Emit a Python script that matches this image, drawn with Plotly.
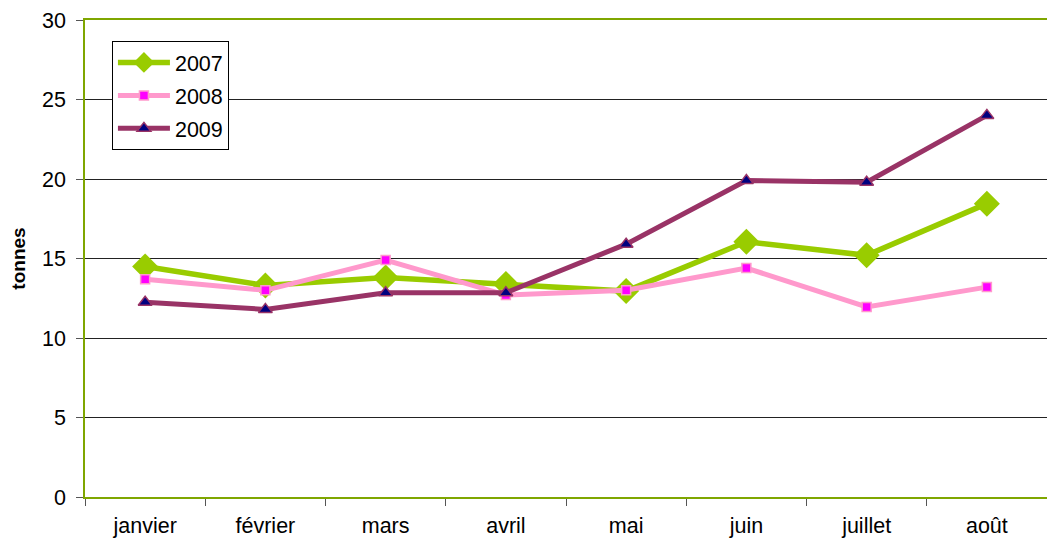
import plotly.graph_objects as go

months = ["janvier", "février", "mars", "avril", "mai", "juin", "juillet", "août"]
s2007 = [14.5, 13.3, 13.8, 13.4, 12.95, 16.05, 15.2, 18.45]
s2008 = [13.7, 13.0, 14.9, 12.7, 13.0, 14.4, 11.95, 13.2]
s2009 = [12.25, 11.8, 12.85, 12.85, 15.9, 19.9, 19.8, 24.0]
y_ticks = [0, 5, 10, 15, 20, 25, 30]

fig = go.Figure()
fig.add_trace(go.Scatter(x=months, y=s2007, name="2007", mode="lines+markers", legendgroup="a",
                         line=dict(color="#99CC00", width=5.5),
                         marker=dict(symbol="diamond", size=20, color="#99CC00")))
fig.add_trace(go.Scatter(x=months, y=s2008, name="2008", mode="lines+markers", legendgroup="b",
                         line=dict(color="#FF99CC", width=5),
                         marker=dict(symbol="square", size=9, color="#FF00FF",
                                     line=dict(color="#FF99CC", width=1.5))))
fig.add_trace(go.Scatter(x=months, y=s2009, name="2009", mode="lines+markers", legendgroup="c",
                         line=dict(color="#993366", width=5),
                         marker=dict(symbol="triangle-up", size=12, color="#000080",
                                     line=dict(color="#993366", width=1.5))))

fig.update_layout(
    width=1047, height=540,
    margin=dict(l=85, r=0, t=20, b=43),
    paper_bgcolor="white", plot_bgcolor="white",
    font=dict(family="Liberation Sans, Arial", size=21.5, color="black"),
    showlegend=True,
    legend=dict(x=0.028, y=0.956, xanchor="left", yanchor="top",
                bordercolor="black", borderwidth=1, bgcolor="white",
                font=dict(size=21.5), tracegroupgap=2, itemwidth=52),
)
fig.update_xaxes(
    type="category", showgrid=False, showline=True, linecolor="#7FA600", linewidth=1.5,
    mirror=True, ticks="outside", tickson="boundaries", ticklen=7, tickcolor="#555555",
    range=[-0.5, 7.5], tickfont=dict(size=21.5), automargin=False, ticklabelstandoff=8,
)
fig.update_yaxes(
    range=[0, 30], tickvals=y_ticks, showgrid=True, gridcolor="#222222", gridwidth=1,
    showline=True, linecolor="#7FA600", linewidth=1.5, ticks="outside", ticklen=7,
    tickcolor="#555555", tickfont=dict(size=21.5), zeroline=False, automargin=False,
    ticklabelstandoff=6,
    title=dict(text="<b>tonnes</b>", font=dict(size=19), standoff=11),
)

fig.write_html("out.html", post_script="document.body.style.margin='0';",
               config={"displayModeBar": False})
